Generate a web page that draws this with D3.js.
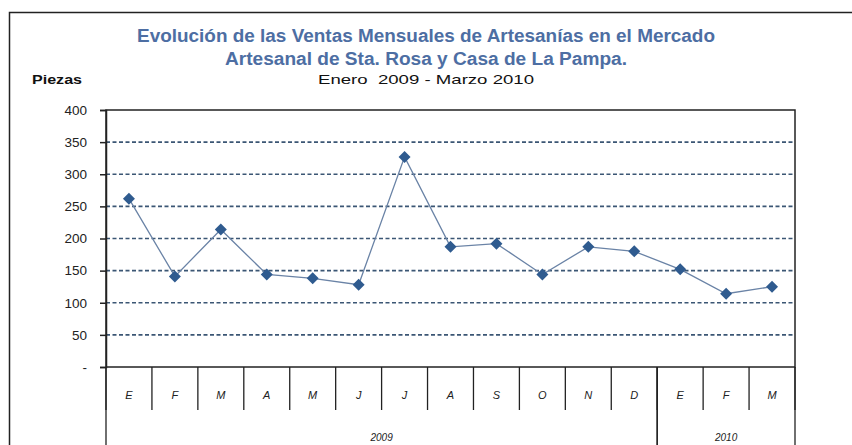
<!DOCTYPE html>
<html>
<head>
<meta charset="utf-8">
<script src="https://cdn.jsdelivr.net/npm/d3@7"></script>
<style>
  body { margin: 0; background: #fff; }
  svg { display: block; font-family: "Liberation Sans", Arial, sans-serif; }
</style>
</head>
<body>
<div id="chart"></div>
<script>
var svgWidth = 852;
var svgHeight = 445;

// Data
var months = ["E", "F", "M", "A", "M", "J", "J", "A", "S", "O", "N", "D", "E", "F", "M"];
var sales = [262, 141, 214, 144, 138, 128, 327, 187, 192, 144, 187, 180, 152, 114, 125];
var years = [{ label: "2009", count: 12 }, { label: "2010", count: 3 }];
var yTicks = [0, 50, 100, 150, 200, 250, 300, 350, 400];
var titleLines = [
  "Evolución de las Ventas Mensuales de Artesanías en el Mercado",
  "Artesanal de Sta. Rosa y Casa de La Pampa."
];
var subtitle = "Enero  2009 - Marzo 2010";
var yLabel = "Piezas";

var plot = { left: 106, top: 110, right: 795, bottom: 367 };

var svg = d3.select("#chart")
  .append("svg")
  .attr("width", svgWidth)
  .attr("height", svgHeight);

// outer chart border (runs off the right and bottom of the picture)
svg.append("rect")
  .attr("x", 9.5)
  .attr("y", 12.5)
  .attr("width", 900)
  .attr("height", 500)
  .attr("fill", "none")
  .attr("stroke", "#222")
  .attr("stroke-width", 1.5);

// titles, squeezed to the widths seen in the original
var titleWidths = [578, 402];
svg.selectAll(".title")
  .data(titleLines)
  .enter()
  .append("text")
  .attr("class", "title")
  .attr("x", 426)
  .attr("y", (d, i) => 42 + i * 23)
  .attr("text-anchor", "middle")
  .attr("font-size", "18px")
  .attr("font-weight", "bold")
  .attr("fill", "#4d6ea3")
  .attr("textLength", (d, i) => titleWidths[i])
  .attr("lengthAdjust", "spacingAndGlyphs")
  .text(d => d);

svg.append("text")
  .attr("x", 426)
  .attr("y", 84)
  .attr("text-anchor", "middle")
  .attr("font-size", "13px")
  .attr("fill", "#111")
  .attr("textLength", 216)
  .attr("lengthAdjust", "spacingAndGlyphs")
  .style("white-space", "pre")
  .text(subtitle);

svg.append("text")
  .attr("x", 32)
  .attr("y", 84)
  .attr("font-size", "13px")
  .attr("font-weight", "bold")
  .attr("fill", "#111")
  .attr("textLength", 50)
  .attr("lengthAdjust", "spacingAndGlyphs")
  .text(yLabel);

// scales
var xScale = d3.scaleBand()
  .domain(d3.range(months.length))
  .range([plot.left, plot.right]);

var yScale = d3.scaleLinear()
  .domain([0, 400])
  .range([plot.bottom, plot.top]);

// dashed gridlines
svg.append("g")
  .selectAll("line")
  .data(yTicks.filter(d => d > 0 && d < 400))
  .enter()
  .append("line")
  .attr("x1", plot.left)
  .attr("x2", plot.right)
  .attr("y1", d => yScale(d))
  .attr("y2", d => yScale(d))
  .attr("stroke", "#3b5674")
  .attr("stroke-width", 1.6)
  .attr("stroke-dasharray", "4,2.5");

// plot frame
svg.append("rect")
  .attr("x", plot.left)
  .attr("y", plot.top)
  .attr("width", plot.right - plot.left)
  .attr("height", plot.bottom - plot.top)
  .attr("fill", "none")
  .attr("stroke", "#222")
  .attr("stroke-width", 1.5);

// y axis
var leftAxis = d3.axisLeft(yScale)
  .tickValues(yTicks)
  .tickSize(6)
  .tickFormat(d => d === 0 ? "-" : d);

var yAxis = svg.append("g")
  .attr("transform", `translate(${plot.left}, 0)`)
  .call(leftAxis);

yAxis.select(".domain").attr("stroke", "#222").attr("stroke-width", 1.5);
yAxis.selectAll(".tick line").attr("stroke", "#222").attr("stroke-width", 1.5);
yAxis.selectAll(".tick text")
  .attr("x", -19)
  .attr("font-size", "13.5px")
  .attr("font-family", "Liberation Sans, Arial, sans-serif")
  .attr("fill", "#222");

// category axis: month cells
var catGroup = svg.append("g");

catGroup.selectAll(".mdiv")
  .data(d3.range(months.length + 1))
  .enter()
  .append("line")
  .attr("class", "mdiv")
  .attr("x1", d => plot.left + d * xScale.bandwidth())
  .attr("x2", d => plot.left + d * xScale.bandwidth())
  .attr("y1", plot.bottom)
  .attr("y2", 410)
  .attr("stroke", "#222")
  .attr("stroke-width", 1.3);

catGroup.selectAll(".mlabel")
  .data(months)
  .enter()
  .append("text")
  .attr("class", "mlabel")
  .attr("x", (d, i) => xScale(i) + xScale.bandwidth() / 2)
  .attr("y", 399)
  .attr("text-anchor", "middle")
  .attr("font-size", "11px")
  .attr("font-style", "italic")
  .attr("fill", "#222")
  .text(d => d);

// year cells
var start = 0;
years.forEach(function(yr) {
  var x0 = plot.left + start * xScale.bandwidth();
  var x1 = plot.left + (start + yr.count) * xScale.bandwidth();
  catGroup.append("line")
    .attr("x1", x0).attr("x2", x0)
    .attr("y1", plot.bottom).attr("y2", svgHeight)
    .attr("stroke", "#222").attr("stroke-width", 1.3);
  catGroup.append("line")
    .attr("x1", x1).attr("x2", x1)
    .attr("y1", plot.bottom).attr("y2", svgHeight)
    .attr("stroke", "#222").attr("stroke-width", 1.3);
  catGroup.append("text")
    .attr("x", (x0 + x1) / 2)
    .attr("y", 441)
    .attr("text-anchor", "middle")
    .attr("font-size", "10px")
    .attr("font-style", "italic")
    .attr("fill", "#222")
    .text(yr.label);
  start += yr.count;
});

// line
var line = d3.line()
  .x((d, i) => xScale(i) + xScale.bandwidth() / 2)
  .y(d => yScale(d));

svg.append("path")
  .datum(sales)
  .attr("d", line)
  .attr("fill", "none")
  .attr("stroke", "#6a83a6")
  .attr("stroke-width", 1.3);

// diamond markers
svg.selectAll(".marker")
  .data(sales)
  .enter()
  .append("path")
  .attr("class", "marker")
  .attr("d", "M0,-6L6,0L0,6L-6,0Z")
  .attr("transform", (d, i) => `translate(${xScale(i) + xScale.bandwidth() / 2}, ${yScale(d)})`)
  .attr("fill", "#2f5b8f");
</script>
</body>
</html>
